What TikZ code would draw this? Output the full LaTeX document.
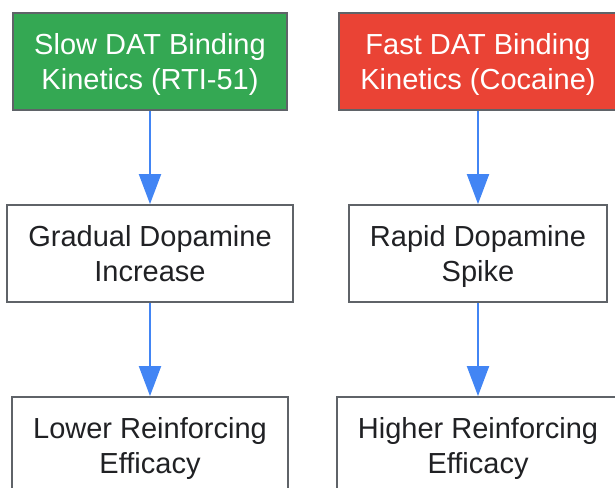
\documentclass[tikz,border=0pt]{standalone}
\usepackage{fontspec}
\setmainfont{Liberation Sans}
\usepackage{xcolor}
\usepackage{tikz}
\usetikzlibrary{arrows.meta,positioning}
\definecolor{slowgreen}{HTML}{34A853}
\definecolor{fastred}{HTML}{EA4335}
\definecolor{edgeblue}{HTML}{4285F4}
\definecolor{boxgray}{HTML}{5F6368}
\definecolor{inkgray}{HTML}{202124}
\newcommand*{\tp}{\rule{0pt}{28pt}}
\newcommand*{\bt}{\rule[-7pt]{0pt}{7pt}}

\begin{document}
\begin{tikzpicture}[ % picture options
        -{Triangle[width=22pt,length=30pt]}, % connectors end in a filled triangle
        node distance=192pt, % centre to centre
        on grid, % centres on grid points
        x=1pt, y=1pt
      ]
      \tikzstyle{stepbox}=[draw=boxgray, line width=1.8pt, fill=white, text=inkgray,
        align=center, inner xsep=21pt, minimum height=97pt,
        font=\fontsize{29}{35}\selectfont] % every box
      \tikzstyle{link}=[draw=edgeblue, line width=2pt] % connectors
      \useasboundingbox (0,0) rectangle (615,-487);
      %% node
      \node[stepbox, fill=slowgreen, text=white] (slow) at (150,-61.5) {\tp Slow DAT Binding\\Kinetics (RTI-51)\bt};
      \node[stepbox, fill=fastred, text=white] (fast) at (478,-61.5) {\tp Fast DAT Binding\\Kinetics (Cocaine)\bt};
      \node[stepbox, below=of slow] (gradual) {\tp Gradual Dopamine\\Increase\bt};
      \node[stepbox, below=of fast] (rapid) {\tp Rapid Dopamine\\Spike\bt};
      \node[stepbox, below=of gradual] (lower) {\tp Lower Reinforcing\\Efficacy\bt};
      \node[stepbox, below=of rapid] (higher) {\tp Higher Reinforcing\\Efficacy\bt};
      %% path
      \draw[link] (slow) -- (gradual);
      \draw[link] (gradual) -- (lower);
      \draw[link] (fast) -- (rapid);
      \draw[link] (rapid) -- (higher);
\end{tikzpicture}
\end{document}
